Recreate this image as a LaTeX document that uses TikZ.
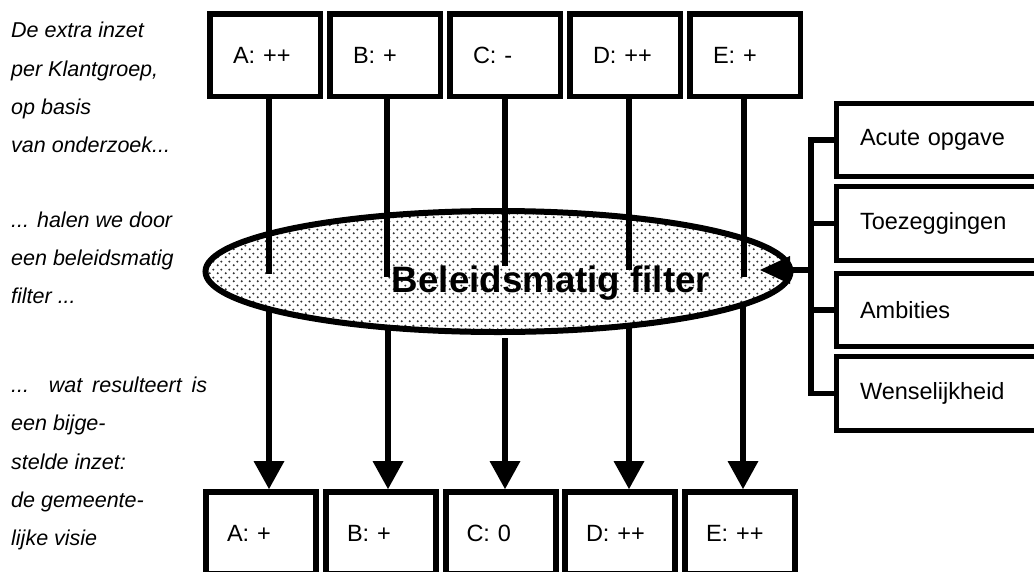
\documentclass[tikz,border=0pt]{standalone}
\usepackage{fontspec}
\setmainfont{Liberation Sans}
\usepackage{tikz}
\usetikzlibrary{arrows.meta,shapes.geometric,patterns}
\pgfdeclarepatternformonly{filterdots}{\pgfqpoint{0pt}{0pt}}{\pgfqpoint{8pt}{8pt}}{\pgfqpoint{8pt}{8pt}}{%
  \pgfpathcircle{\pgfqpoint{2pt}{2pt}}{1.25pt}%
  \pgfpathcircle{\pgfqpoint{6pt}{6pt}}{1.25pt}%
  \pgfusepath{fill}}
\tikzstyle{ib}=[rectangle,draw=black,line width=5.5pt,minimum height=82.5pt,
  inner xsep=23.25pt,text width=64pt,align=left,font=\fontsize{23.5}{28}\selectfont]
\tikzstyle{vb}=[rectangle,draw=black,line width=6pt,minimum height=82pt,
  inner xsep=21pt,text width=68pt,align=left,font=\fontsize{23.5}{28}\selectfont]
\tikzstyle{fb}=[rectangle,draw=black,line width=5pt,minimum height=73.5pt,
  inner xsep=23.5pt,text width=213pt,align=left,font=\fontsize{23.5}{28}\selectfont]
\tikzstyle{flt}=[ellipse,draw=black,line width=6pt,pattern=filterdots,pattern color=black!80,
  minimum width=585pt,minimum height=121pt,inner sep=0pt]
\tikzstyle{side}=[anchor=west,align=left,inner sep=0pt,font=\itshape\fontsize{21.5}{38.3}\selectfont]
\tikzstyle{conn}=[line width=5.5pt]
\tikzstyle{pijl}=[conn,-{Triangle[length=28pt,width=31pt,line width=0pt]}]
\tikzstyle{inpijl}=[conn,-{Triangle[length=30pt,width=28pt,line width=0pt]}]

\begin{document}
\begin{tikzpicture}[x=1pt,y=-1pt]
        \clip (0,0) rectangle (1034,571);
        \node[style=flt] (filter) at (498,271.5) {};
        \node[style=ib] (iA) at (265,55) {A: ++};
        \node[style=ib] (iB) at (385,55) {B: +};
        \node[style=ib] (iC) at (505,55) {C: -};
        \node[style=ib] (iD) at (625,55) {D: ++};
        \node[style=ib] (iE) at (745,55) {E: +};
        \node[style=vb] (vA) at (261,533) {A: +};
        \node[style=vb] (vB) at (381,533) {B: +};
        \node[style=vb] (vC) at (500.5,533) {C: 0};
        \node[style=vb] (vD) at (620,533) {D: ++};
        \node[style=vb] (vE) at (740,533) {E: ++};
        \node[style=fb] (acute) at (966.5,140) {Acute opgave};
        \node[style=fb] (toez) at (966.5,223.5) {Toezeggingen};
        \node[style=fb] (amb) at (966.5,310) {Ambities};
        \node[style=fb] (wens) at (966.5,393.5) {Wenselijkheid};
        \node[style=side] (intro) at (11,87.5) {De extra inzet\\per Klantgroep,\\op basis\\van onderzoek...};
        \node[style=side] (door) at (11,258) {... halen we door\\een beleidsmatig\\filter ...};
        \node[style=side] (visie) at (11,463.5) {\makebox[196pt][s]{... wat resulteert is}\\een bijge-\\stelde inzet:\\de gemeente-\\lijke visie};
        \coordinate (aTop) at (269,274);
        \coordinate (bTop) at (387,277);
        \coordinate (cTop) at (505,266);
        \coordinate (dTop) at (629,270);
        \coordinate (eTop) at (744,277);
        \coordinate (aLow) at (269,309);
        \coordinate (bLow) at (388,327.5);
        \coordinate (cLow) at (505,338);
        \coordinate (dLow) at (629,325.5);
        \coordinate (eLow) at (743,304.5);
        \coordinate (bk) at (811,270);
        \coordinate (tip) at (760,270);
        \draw[style=conn] (iA.south -| aTop) -- (aTop);
        \draw[style=conn] (iB.south -| bTop) -- (bTop);
        \draw[style=conn] (iC.south -| cTop) -- (cTop);
        \draw[style=conn] (iD.south -| dTop) -- (dTop);
        \draw[style=conn] (iE.south -| eTop) -- (eTop);
        \draw[style=pijl] (aLow) -- (aLow |- vA.north);
        \draw[style=pijl] (bLow) -- (bLow |- vB.north);
        \draw[style=pijl] (cLow) -- (cLow |- vC.north);
        \draw[style=pijl] (dLow) -- (dLow |- vD.north);
        \draw[style=pijl] (eLow) -- (eLow |- vE.north);
        \draw[style=conn] (acute.west) -- (acute.west -| bk) -- (wens.west -| bk) -- (wens.west);
        \draw[style=conn] (toez.west) -- (toez.west -| bk);
        \draw[style=conn] (amb.west) -- (amb.west -| bk);
        \draw[style=inpijl] (bk) -- (tip);
        \node[font=\bfseries\fontsize{36.7}{40}\selectfont,inner sep=0pt,anchor=base] (label) at (551,292) {Beleidsmatig filter};
\end{tikzpicture}
\end{document}
